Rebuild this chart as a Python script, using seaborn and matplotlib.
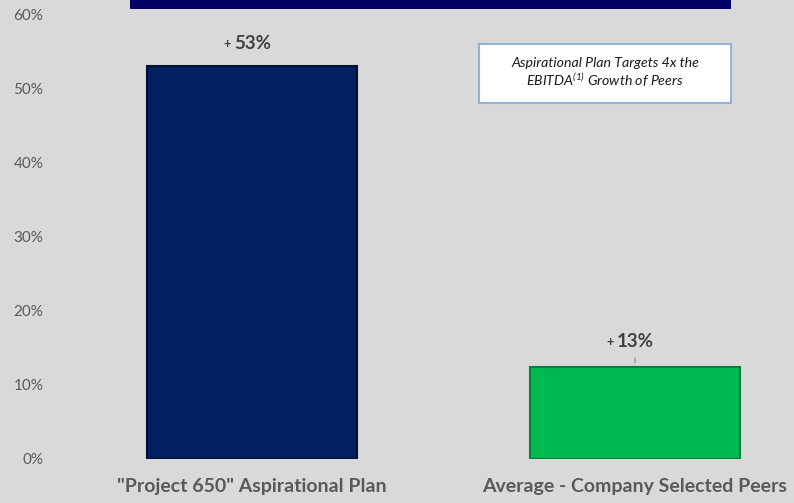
import matplotlib
matplotlib.use("Agg")
import matplotlib.pyplot as plt
import seaborn as sns
import pandas as pd
from matplotlib.patches import Rectangle

categories = ['"Project 650" Aspirational Plan', 'Average - Company Selected Peers']
values = [53.0, 12.4]
value_labels = ["53%", "13%"]
bar_colors = ["#002060", "#00b850"]
edge_colors = ["#001233", "#00803a"]
yticks = [0, 10, 20, 30, 40, 50, 60]
box_text = ["Aspirational Plan Targets 4x the", "EBITDA$^{\\mathregular{(1)}}$ Growth of Peers"]

sns.set_theme(style="white")
plt.rcParams['font.family'] = ['Lato', 'DejaVu Sans']
plt.rcParams['mathtext.fontset'] = 'custom'
plt.rcParams['mathtext.rm'] = 'Lato:italic'
plt.rcParams['mathtext.it'] = 'Lato:italic'

bg = "#d9d9d9"
fig = plt.figure(figsize=(7.94, 5.03), dpi=100, facecolor=bg)
ax = fig.add_axes([60/794, 44/503, 1 - 60/794, (459-14)/503])
ax.set_facecolor(bg)

df = pd.DataFrame({"cat": categories, "val": values})
sns.barplot(data=df, x="cat", y="val", hue="cat", palette=bar_colors,
            legend=False, width=0.55, ax=ax, saturation=1)
for p, ec in zip(ax.patches, edge_colors):
    p.set_edgecolor(ec)
    p.set_linewidth(1.5)

ax.set_ylim(0, 60)
ax.set_xlim(-0.501, 1.415)
ax.set_yticks(yticks)
ax.set_yticklabels([f"{t}%" for t in yticks], fontsize=11, color="#595959")
ax.tick_params(axis="y", length=0, pad=12)
ax.tick_params(axis="x", length=0, pad=14)
ax.set_xticks(range(len(categories)))
ax.set_xticklabels(categories, fontsize=14, fontweight="bold", color="#595959")
ax.set_xlabel("")
ax.set_ylabel("")
for s in ax.spines.values():
    s.set_visible(False)

# value labels
offsets = [10, 12.5]
for i, (v, lab) in enumerate(zip(values, value_labels)):
    ax.annotate(lab, xy=(i, v), xytext=(-13, offsets[i]), textcoords="offset points",
                ha="left", va="bottom", fontsize=13.5, fontweight="bold", color="#404040")
    ax.annotate("+", xy=(i, v), xytext=(-15, offsets[i] + 1.5), textcoords="offset points",
                ha="right", va="bottom", fontsize=9, fontweight="bold", color="#404040")
# leader line for small bar
ax.annotate("", xy=(1, values[1] + 0.2), xytext=(1, values[1] + 1.6),
            arrowprops=dict(arrowstyle="-", color="#a6a6a6", lw=1.2))

# text box
box = Rectangle((479/794, 1 - 103/503), (731-479)/794, (103-44)/503,
                transform=fig.transFigure, facecolor="white", edgecolor="#95b3d7", lw=1.5)
fig.patches.append(box)
fig.text(605/794, 1 - 63/503, box_text[0], ha="center", va="center",
         fontsize=10.2, style="italic", color="#1a1a1a")
fig.text(605/794, 1 - 80/503, box_text[1], ha="center", va="center",
         fontsize=10.2, style="italic", color="#1a1a1a")

# top navy banner
fig.patches.append(Rectangle((130/794, 1 - 9/503), (731-130)/794, 9/503,
                             transform=fig.transFigure, facecolor="#000066", edgecolor="none"))

fig.savefig("out.png", dpi=100, facecolor=bg)
